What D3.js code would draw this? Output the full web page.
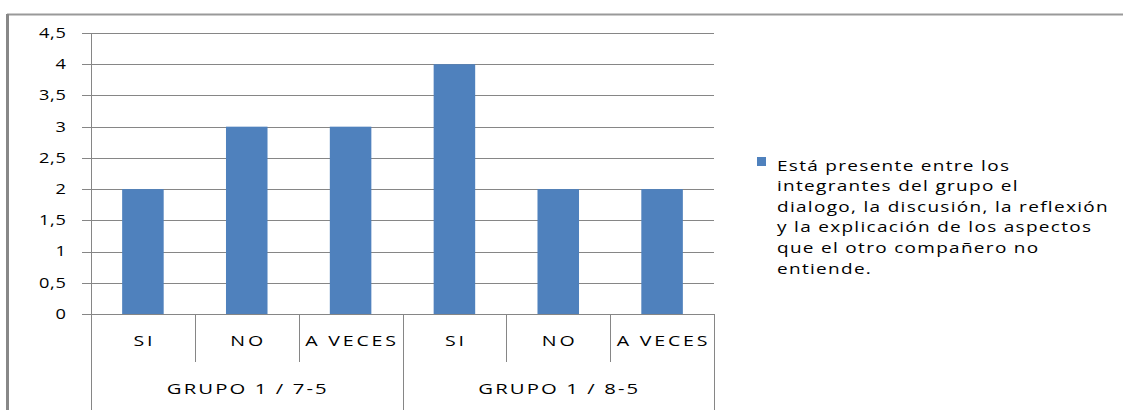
<!DOCTYPE html>
<html>
<head>
<meta charset="utf-8">
<script src="https://cdn.jsdelivr.net/npm/d3@7"></script>
<style>
  html, body { margin: 0; padding: 0; background: #fff; }
  svg { display: block; }
  text { font-family: "Open Sans", "DejaVu Sans", sans-serif; fill: #000; }
</style>
</head>
<body>
<svg id="chart" width="1125" height="410"></svg>
<script>
// Answers per group
const groups = ["GRUPO 1 / 7-5", "GRUPO 1 / 8-5"];
const answers = ["SI", "NO", "A VECES"];
const values = [2, 3, 3, 4, 2, 2];
const yTicks = [0, 0.5, 1, 1.5, 2, 2.5, 3, 3.5, 4, 4.5];
const legendLines = [
  "Está presente entre los",
  "integrantes del grupo el",
  "dialogo, la discusión, la reflexión",
  "y la explicación de los aspectos",
  "que el otro compañero no",
  "entiende."
];

const categories = groups.flatMap((g, gi) => answers.map((a, ai) => ({ group: g, answer: a, key: gi + "-" + ai })));

const svg = d3.select("#chart");
const plotLeft = 91, plotRight = 714, plotTop = 33, plotBottom = 314;
const gridColor = "#868686";
const barColor = "#4F81BD";
const fmt = v => String(v).replace(".", ",");
// Text in this chart uses a horizontally widened face
const place = (px, py, sx) => `translate(${px},${py}) scale(${sx},1)`;

// Outer frame
svg.append("line").attr("x1", 7).attr("x2", 1123).attr("y1", 14.5).attr("y2", 14.5)
  .attr("stroke", "#999").attr("stroke-width", 2);
svg.append("line").attr("x1", 7.5).attr("x2", 7.5).attr("y1", 14).attr("y2", 410)
  .attr("stroke", "#888").attr("stroke-width", 3);

const y = d3.scaleLinear().domain([0, 4.5]).range([plotBottom, plotTop]);
const x = d3.scaleBand().domain(categories.map(d => d.key)).range([plotLeft, plotRight])
  .paddingInner(0.6).paddingOuter(0.3);
const step = x.step();

// Horizontal gridlines with outside ticks
svg.append("g").selectAll("line").data(yTicks).join("line")
  .attr("x1", plotLeft - 9).attr("x2", plotRight)
  .attr("y1", d => Math.round(y(d)) + 0.5).attr("y2", d => Math.round(y(d)) + 0.5)
  .attr("stroke", gridColor).attr("stroke-width", 1);

// Y tick labels
const yLs = 0.6;
svg.append("g").selectAll("text").data(yTicks).join("text")
  .attr("transform", d => place(66, y(d), 1.3))
  .attr("dx", yLs).attr("dy", "0.35em").attr("text-anchor", "end")
  .attr("font-size", 14).attr("letter-spacing", yLs)
  .text(fmt);

// Bars
svg.append("g").selectAll("rect").data(values).join("rect")
  .attr("x", (d, i) => x(categories[i].key))
  .attr("width", x.bandwidth())
  .attr("y", d => y(d))
  .attr("height", d => y(0) - y(d))
  .attr("fill", barColor);

// Value axis line
svg.append("line").attr("x1", plotLeft + 0.5).attr("x2", plotLeft + 0.5)
  .attr("y1", plotTop).attr("y2", 410).attr("stroke", gridColor);

// Category dividers (short) and group dividers (long)
const catEdge = i => plotLeft + step * i;
for (let i = 1; i <= categories.length; i++) {
  const isGroupEdge = i % answers.length === 0;
  svg.append("line")
    .attr("x1", Math.round(catEdge(i)) + 0.5).attr("x2", Math.round(catEdge(i)) + 0.5)
    .attr("y1", plotBottom).attr("y2", isGroupEdge ? 410 : 362)
    .attr("stroke", gridColor);
}

// Category labels
const catLs = 2;
svg.append("g").selectAll("text").data(categories).join("text")
  .attr("transform", d => place(x(d.key) + x.bandwidth() / 2, 341, 1.4))
  .attr("dx", catLs / 2).attr("dy", "0.35em").attr("text-anchor", "middle")
  .attr("font-size", 14).attr("letter-spacing", catLs)
  .text(d => d.answer);

// Group labels
const grpLs = 1.5;
svg.append("g").selectAll("text").data(groups).join("text")
  .attr("transform", (d, i) => place(plotLeft + step * answers.length * (i + 0.5), 389, 1.4))
  .attr("dx", grpLs / 2).attr("dy", "0.35em").attr("text-anchor", "middle")
  .attr("font-size", 14.5).attr("letter-spacing", grpLs)
  .text(d => d);

// Legend
const lg = svg.append("g").attr("transform", "translate(757,157)");
lg.append("rect").attr("width", 9).attr("height", 9).attr("fill", barColor);
lg.selectAll("text").data(legendLines).join("text")
  .attr("transform", (d, i) => place(20, 8.5 + i * 20.6, 1.31))
  .attr("dy", "0.35em")
  .attr("font-size", 14.5).attr("letter-spacing", 1)
  .text(d => d);
</script>
</body>
</html>
